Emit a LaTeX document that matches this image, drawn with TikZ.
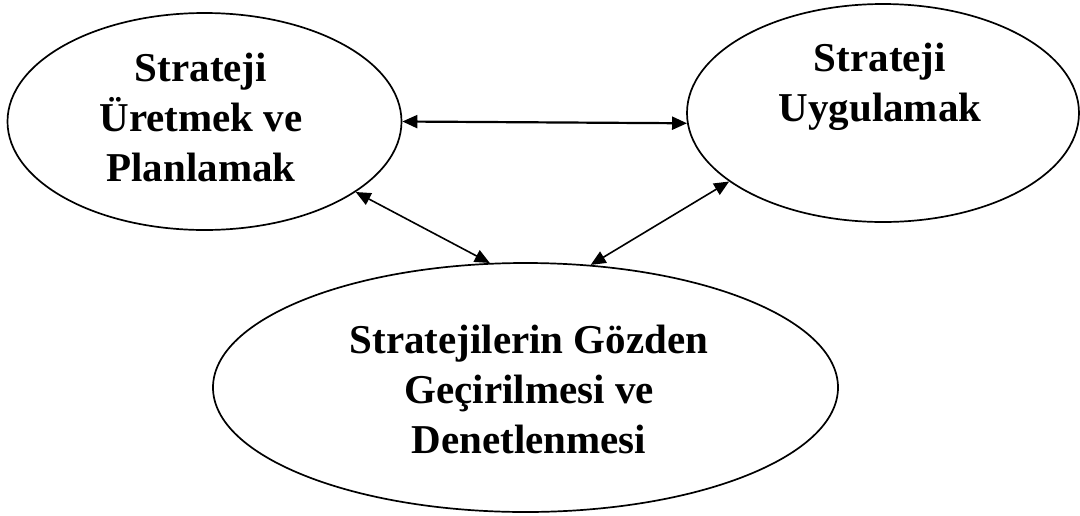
\documentclass[tikz,border=0pt]{standalone}
\usepackage{fontspec}
\setmainfont{Liberation Serif}
\usetikzlibrary{shapes.geometric,arrows.meta}
\begin{document}
\begin{tikzpicture}[x=1pt,y=-1pt,
  oval/.style={ellipse,draw,line width=1.7pt,inner sep=0pt},
  lbl/.style={align=center,font=\fontsize{41}{50}\selectfont\bfseries,inner sep=0pt,anchor=north},
  link/.style={line width=1.6pt,{Triangle[length=15pt,width=13pt]}-{Triangle[length=15pt,width=13pt]}}]
\useasboundingbox (0,0) rectangle (1080,515);
\node[oval,minimum width=394pt,minimum height=217pt] (e1) at (204.5,121.5) {};
\node[oval,minimum width=392pt,minimum height=218pt] (e2) at (883,113) {};
\node[oval,minimum width=625pt,minimum height=249pt] (e3) at (525.5,387.5) {};
\node[lbl] (t1) at (201,46) {\strut Strateji\\Üretmek ve\\Planlamak};
\node[lbl] (t2) at (880,36) {\strut Strateji\\Uygulamak};
\node[lbl] (t3) at (529,318) {\strut Stratejilerin Gözden\\Geçirilmesi ve\\Denetlenmesi};
\draw[link,line width=2.2pt] (e1.-0.5) -- (e2.183);
\draw[link] (e1.-25.4) -- (e3.106);
\draw[link] (e2.-156.6) -- (e3.62);
\end{tikzpicture}
\end{document}
